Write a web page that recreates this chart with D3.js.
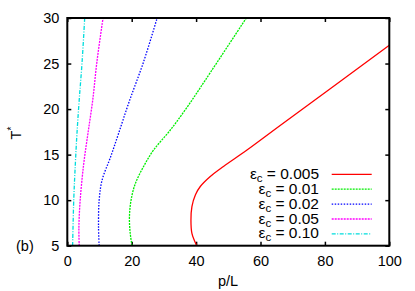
<!DOCTYPE html>
<html>
<head>
<meta charset="utf-8">
<script src="https://cdn.jsdelivr.net/npm/d3@7"></script>
<style>
  body { margin: 0; background: #fff; }
  svg text { font-family: "Liberation Sans", Arial, sans-serif; }
</style>
</head>
<body>
<svg width="415" height="291"></svg>
<script>
// values, one array per curve (p/L, T*)
var eps_labels = ["0.005", "0.01", "0.02", "0.05", "0.10"];
var colors = ["#ff0000", "#00ee00", "#0000ff", "#ff00ff", "#00dddd"];
var dashes = [null, "2,1", "1.5,1.5", "2,1", "4,1.5,1,1.5"];

var red_p = [40.2, 38.7, 38.4, 38.7, 39.8, 41.3, 44.4, 48.5, 55.8, 66.1, 100];
var red_T = [5, 6.35, 7.8, 9.3, 10.6, 11.5, 12.6, 13.7, 15.5, 18.2, 27];

var green_p = [20.1, 19.5, 19.3, 19.8, 21.1, 23.7, 26.8, 32, 37.2, 42.9, 55.6];
var green_T = [5, 6.5, 8.2, 10, 11.8, 13.7, 15.5, 17.7, 20.2, 23.2, 30];

var blue_p = [9.9, 9.7, 9.9, 10.8, 13.4, 15.9, 19.2, 23.7, 27.9];
var blue_T = [5, 7, 10, 12.2, 14.7, 17.3, 20.8, 25.2, 30];

var magenta_p = [3.7, 3.6, 4.0, 5.1, 6.4, 7.9, 9.2, 11.1];
var magenta_T = [5, 7, 10, 14, 17.3, 21, 25.2, 30];

var cyan_p = [1.65, 2.0, 2.5, 3.0, 3.7, 4.6, 5.4];
var cyan_T = [5, 10, 14, 17.3, 21, 25.2, 30];

var x_ticks = [0, 20, 40, 60, 80, 100];
var y_ticks = [5, 10, 15, 20, 25, 30];

var series = [
    [red_p, red_T], [green_p, green_T], [blue_p, blue_T],
    [magenta_p, magenta_T], [cyan_p, cyan_T]
];

var svg = d3.select("svg");

var plot_left = 67.3, plot_right = 389.3, plot_top = 18, plot_bottom = 245.7;

var x = d3.scaleLinear().domain([0, 100]).range([plot_left, plot_right]);
var y = d3.scaleLinear().domain([5, 30]).range([plot_bottom, plot_top]);

// axes, ticks pointing inwards like gnuplot
svg.append("g")
    .attr("transform", "translate(0," + plot_bottom + ")")
    .call(d3.axisBottom(x).tickValues(x_ticks).tickSize(-4).tickPadding(10))
    .call(g => g.select(".domain").remove());

svg.append("g")
    .attr("transform", "translate(0," + plot_top + ")")
    .call(d3.axisTop(x).tickValues(x_ticks).tickSize(-4).tickFormat(""))
    .call(g => g.select(".domain").remove());

svg.append("g")
    .attr("transform", "translate(" + plot_left + ",0)")
    .call(d3.axisLeft(y).tickValues(y_ticks).tickSize(-4).tickPadding(8))
    .call(g => g.select(".domain").remove());

svg.append("g")
    .attr("transform", "translate(" + plot_right + ",0)")
    .call(d3.axisRight(y).tickValues(y_ticks).tickSize(-4).tickFormat(""))
    .call(g => g.select(".domain").remove());

svg.selectAll(".tick line").attr("stroke", "#000").attr("stroke-width", 1.5);
svg.selectAll(".tick text")
    .attr("font-size", 14.5)
    .attr("fill", "#000")
    .style("font-family", "Liberation Sans, Arial, sans-serif");

// curves
var line = d3.line()
    .x(function(d) { return x(d[0]); })
    .y(function(d) { return y(d[1]); })
    .curve(d3.curveCatmullRom.alpha(0.5));

series.forEach(function(s, i) {
    var pts = s[0].map(function(p, j) { return [p, s[1][j]]; });
    svg.append("path")
        .datum(pts)
        .attr("d", line)
        .attr("fill", "none")
        .attr("stroke", colors[i])
        .attr("stroke-width", 1.3)
        .attr("stroke-dasharray", dashes[i]);
});

// frame
svg.append("rect")
    .attr("x", plot_left).attr("y", plot_top)
    .attr("width", plot_right - plot_left).attr("height", plot_bottom - plot_top)
    .attr("fill", "none").attr("stroke", "#000").attr("stroke-width", 2);

// legend
eps_labels.forEach(function(lab, i) {
    var ly = 174.3 + i * 14.9;
    var t = svg.append("text")
        .attr("x", 319).attr("y", ly + 4.5)
        .attr("text-anchor", "end")
        .attr("font-size", 15.5);
    t.append("tspan").text("ε");
    t.append("tspan").attr("dy", 3).attr("font-size", 11.5).text("c");
    t.append("tspan").attr("dy", -3).text(" = " + lab);
    svg.append("line")
        .attr("x1", 331.7).attr("x2", 371.7)
        .attr("y1", ly).attr("y2", ly)
        .attr("stroke", colors[i])
        .attr("stroke-width", 1.3)
        .attr("stroke-dasharray", dashes[i]);
});

// axis titles
svg.append("text")
    .attr("x", 228).attr("y", 286)
    .attr("text-anchor", "middle")
    .attr("font-size", 14.5)
    .text("p/L");

var yt = svg.append("text")
    .attr("transform", "translate(21,133) rotate(-90)")
    .attr("text-anchor", "middle")
    .attr("font-size", 14.5);
yt.append("tspan").text("T");
yt.append("tspan").attr("dy", -6).attr("font-size", 10).text("*");

svg.append("text")
    .attr("x", 16).attr("y", 251)
    .attr("font-size", 14.5)
    .text("(b)");
</script>
</body>
</html>
